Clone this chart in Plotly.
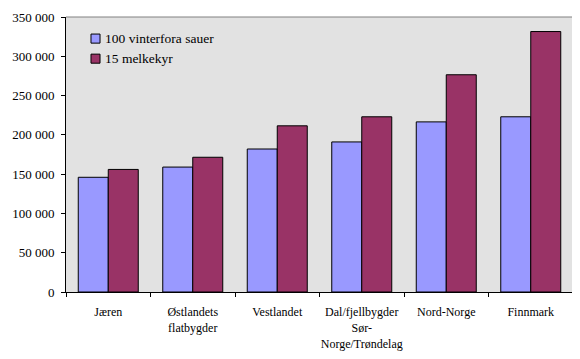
import plotly.graph_objects as go

categories = ["Jæren", "Østlandets<br>flatbygder", "Vestlandet",
              "Dal/fjellbygder<br>Sør-<br>Norge/Trøndelag", "Nord-Norge", "Finnmark"]
sau = [146000, 159000, 182000, 191000, 216500, 223000]
kyr = [156000, 171500, 211500, 223000, 276500, 331500]
series_names = ["100 vinterfora sauer", "15 melkekyr"]
series_colors = ["#9999FF", "#993366"]
ytick_vals = [0, 50000, 100000, 150000, 200000, 250000, 300000, 350000]

serif = "Liberation Serif"

fig = go.Figure()
for vals, name, col in zip([sau, kyr], series_names, series_colors):
    fig.add_trace(go.Bar(x=categories, y=vals, name=name, showlegend=False,
                         marker=dict(color=col, line=dict(color="black", width=1))))

# page body has an 8px default margin; figure is sized/offset to compensate
fig.update_layout(
    width=572, height=351,
    margin=dict(l=58, r=7, t=9, b=67),
    paper_bgcolor="white", plot_bgcolor="#E2E2E2",
    font=dict(family=serif, size=13, color="black"),
    separators=", ",
    barmode="group", bargap=0.29, bargroupgap=0,
    showlegend=False,
)
fig.update_xaxes(showline=True, linecolor="black", linewidth=1,
                 ticks="outside", ticklen=4, tickcolor="black",
                 tickson="boundaries", showgrid=False, ticklabelstandoff=9,
                 tickangle=0, automargin=False,
                 tickfont=dict(family=serif, size=12), mirror=False)
fig.update_yaxes(range=[0, 350000], tickvals=ytick_vals, tickformat=",d",
                 showline=True, linecolor="black", linewidth=1,
                 ticks="outside", ticklen=4, tickcolor="black",
                 ticklabelstandoff=4, tickfont=dict(family=serif, size=13),
                 showgrid=False, zeroline=False, automargin=False)
# grey frame on top and right of plot area
fig.add_shape(type="line", xref="paper", yref="paper", x0=0, x1=1, y0=1, y1=1,
              line=dict(color="#808080", width=1))
fig.add_shape(type="line", xref="paper", yref="paper", x0=1, x1=1, y0=0, y1=1,
              line=dict(color="#808080", width=1))

# manual legend
leg_rows = [(0.938, 0.905, 0.922), (0.865, 0.832, 0.849)]
for (y1, y0, yc), name, col in zip(leg_rows, series_names, series_colors):
    fig.add_shape(type="rect", xref="paper", yref="paper",
                  x0=0.0493, x1=0.0671, y0=y0, y1=y1,
                  fillcolor=col, line=dict(color="black", width=1))
    fig.add_annotation(xref="paper", yref="paper", x=0.072, y=yc,
                       xanchor="left", yanchor="middle", text=name,
                       showarrow=False, font=dict(family=serif, size=13.5))

fig.write_html("out.html")
